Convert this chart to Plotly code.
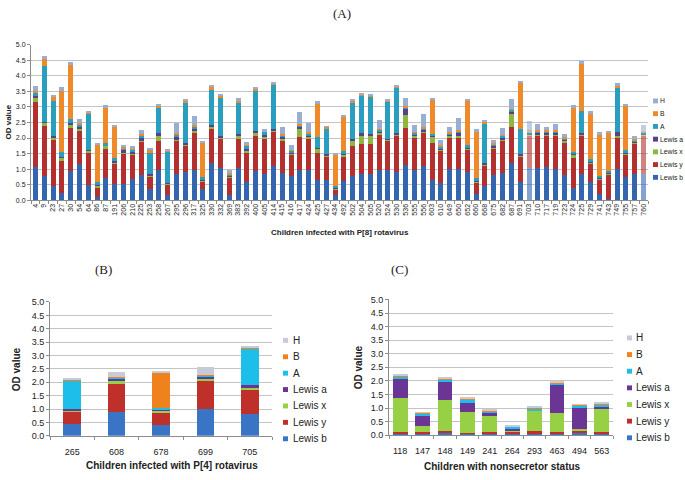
import plotly.graph_objects as go

# ---- Panel A: children infected with P[8] rotavirus ----
ids_a = ["4", "9", "23", "27", "30", "54", "64", "86", "87", "191", "206", "210", "225", "253",
         "258", "267", "295", "296", "317", "325", "330", "332", "369", "383", "392", "400",
         "405", "414", "415", "416", "417", "424", "425", "427", "434", "492", "502", "504",
         "505", "520", "524", "530", "536", "555", "556", "603", "610", "649", "650", "652",
         "660", "668", "675", "682", "687", "691", "703", "710", "717", "719", "723", "724",
         "725", "729", "741", "743", "749", "755", "757", "760"]
lewis_b_a = [1.08, .78, .47, .23, .95, 1.17, .48, .10, .70, .53, .53, .67, .80, .35,
             .97, .17, .85, .92, .98, .35, 1.20, 1.05, .15, 1.03, .60, .95,
             .84, 1.11, .86, .79, .97, .97, .64, .64, .15, .63, .77, .83,
             .83, .97, .97, .92, 1.13, .97, 1.09, .66, .56, 1.00, 1.00, .90,
             .21, .45, .81, .86, 1.20, .58, 1.03, 1.03, 1.06, 1.00, .82, .40,
             .84, .57, .21, .03, 1.00, .74, .84, .84]
lewis_y_a = [2.07, 1.62, 1.50, 1.04, 1.38, 1.08, 1.07, .32, .95, .62, .97, .80, 1.07, .40,
             .93, .33, 1.05, .83, 1.17, .25, 1.10, .93, .57, .97, .95, 1.13,
             1.16, 1.09, 1.07, .68, 1.05, 1.03, .88, .76, .20, .79, .97, .99,
             .99, 1.15, .95, 1.16, 1.20, 1.05, 1.08, 1.18, 1.04, 1.02, 1.02, .74,
             .36, .68, .87, 1.06, 1.14, .84, 1.05, 1.05, 1.02, 1.08, 1.05, .97,
             1.24, .62, .45, .79, 1.03, .74, .98, 1.24]
lewis_x_a = [.15, .10, .05, .10, .10, .05, .05, .05, .10, .08, .05, .05, .07, .05,
             .15, .03, .07, .05, .07, .03, .05, .05, .04, .05, .05, .08,
             .05, .04, .05, .05, .27, .05, .14, .05, .03, .05, .15, .26,
             .26, .05, .03, .03, .42, .05, .05, .21, .04, .05, .05, .03,
             .03, .03, .03, .05, .42, .03, .05, .05, .05, .05, .05, .10,
             .03, .04, .04, .04, .05, .04, .04, .04]
lewis_a_a = [.05, .03, .05, .03, .04, .05, .02, .03, .03, .03, .05, .03, .05, .03,
             .10, .03, .05, .05, .08, .05, .07, .05, .03, .08, .05, .08,
             .05, .04, .05, .03, .08, .05, .03, .03, .03, .03, .07, .07,
             .06, .05, .03, .04, .20, .05, .05, .04, .04, .04, .10, .04,
             .03, .03, .05, .05, .10, .03, .03, .05, .04, .04, .03, .03,
             .04, .03, .03, .03, .10, .03, .03, .03]
a_a = [.10, 1.80, 1.13, .15, .13, .10, 1.16, .08, .05, .10, .08, .07, .10, .69,
       .83, 1.00, .10, 1.30, .07, .05, 1.13, 1.22, .05, 1.00, .10, 1.30,
       .10, 1.45, .07, .05, .05, .05, .34, .83, .05, .07, 1.19, 1.21,
       1.20, .05, 1.19, 1.48, .05, .05, .05, .05, .05, .05, .06, .05,
       .07, 1.27, .05, .05, .05, .80, .05, .05, .05, .05, .05, .05,
       .72, .05, .05, .05, 1.45, .05, .05, .05]
b_a = [.08, .20, .12, 1.97, 1.75, .03, .03, 1.22, 1.17, 1.00, .03, .02, .03, .12,
       .05, .03, .05, .05, .05, 1.12, .08, .08, .03, .07, .03, .05,
       .03, .03, .03, .03, .03, .03, 1.10, .05, 1.00, 1.12, .05, .04,
       .04, .03, .03, .03, .03, .03, .03, 1.10, .03, .03, .03, 1.45,
       1.53, .07, .03, .03, .03, 1.52, .03, .03, .03, .03, .03, 1.45,
       1.54, 1.50, 1.35, 1.24, .05, 1.45, .03, .03]
h_a = [.15, .10, .08, .11, .10, .14, .07, .05, .05, .05, .08, .09, .15, .04,
       .07, .06, .30, .05, .28, .05, .07, .05, .10, .08, .10, .06,
       .06, .05, .23, .13, .40, .30, .06, .03, .05, .06, .06, .05,
       .05, .27, .05, .04, .25, .22, .43, .05, .19, .17, .40, .05,
       .05, .05, .11, .23, .33, .04, .31, .20, .12, .19, .11, .05,
       .06, .05, .05, .05, .08, .05, .10, .20]
faded_a = ["703", "760"]

# ---- Panel B: children infected with P[4] rotavirus ----
ids_b = ["265", "608", "678", "699", "705"]
lewis_b_b = [.43, .90, .42, 1.00, .82]
lewis_y_b = [.47, 1.02, .46, 1.05, .90]
lewis_x_b = [.05, .15, .05, .10, .08]
lewis_a_b = [.05, .07, .05, .07, .10]
a_b = [1.05, .03, .05, .03, 1.35]
b_b = [.05, .03, 1.32, .03, .05]
h_b = [.07, .17, .04, .29, .07]

# ---- Panel C: children with nonsecretor status ----
ids_c = ["118", "147", "148", "149", "241", "264", "293", "463", "494", "563"]
lewis_b_c = [.05, .05, .07, .04, .05, .05, .05, .05, .07, .05]
lewis_y_c = [.07, .06, .08, .05, .06, .08, .10, .08, .08, .05]
lewis_x_c = [1.25, .22, 1.13, .76, .61, .03, .73, .69, .07, .87]
lewis_a_c = [.71, .37, .67, .33, .08, .05, .03, 1.03, .78, .05]
a_c = [.05, .07, .07, .10, .05, .08, .07, .05, .07, .10]
b_c = [.05, .03, .05, .07, .05, .02, .03, .02, .03, .03]
h_c = [.04, .02, .03, .03, .02, .03, .02, .03, .02, .02]

series_names = ["Lewis b", "Lewis y", "Lewis x", "Lewis a", "A", "B", "H"]
colors_a = ["#3466B0", "#B3302E", "#8DB83F", "#5B3F8E", "#2A9EBE", "#EE8A2A", "#98AED3"]
colors_bc = ["#3A74C4", "#C0302B", "#98D045", "#6A3594", "#1EBEEB", "#F0821E", "#C5CBD8"]

W, H = 685, 480


def px_x(v):
    return v / W


def px_y(v):
    return 1 - v / H


fig = go.Figure()

data_a = [lewis_b_a, lewis_y_a, lewis_x_a, lewis_a_a, a_a, b_a, h_a]
opac_a = [0.6 if i in faded_a else 1.0 for i in ids_a]
for name, vals, col in zip(series_names, data_a, colors_a):
    fig.add_trace(go.Bar(x=ids_a, y=vals, name=name, xaxis="x", yaxis="y",
                         marker=dict(color=col, opacity=opac_a, line=dict(width=0)),
                         showlegend=False))

data_b = [lewis_b_b, lewis_y_b, lewis_x_b, lewis_a_b, a_b, b_b, h_b]
for name, vals, col in zip(series_names, data_b, colors_bc):
    fig.add_trace(go.Bar(x=ids_b, y=vals, name=name, xaxis="x2", yaxis="y2", width=0.4,
                         marker=dict(color=col, line=dict(width=0)), showlegend=False))

data_c = [lewis_b_c, lewis_y_c, lewis_x_c, lewis_a_c, a_c, b_c, h_c]
for name, vals, col in zip(series_names, data_c, colors_bc):
    fig.add_trace(go.Bar(x=ids_c, y=vals, name=name, xaxis="x3", yaxis="y3", width=0.66,
                         marker=dict(color=col, line=dict(width=0)), showlegend=False))

font_main = "Liberation Sans"
grid = "#C4C4C4"

yax_common = dict(range=[0, 5], dtick=0.5, tickformat=".1f", showgrid=True, gridcolor=grid,
                  gridwidth=1, showline=True, linecolor="#8C8C8C", ticks="outside",
                  ticklen=3, tickcolor="#8C8C8C", zeroline=False, fixedrange=True)
xax_common = dict(type="category", showline=True, linecolor="#8C8C8C", ticks="outside",
                  tickson="boundaries", ticklen=3, tickcolor="#8C8C8C", showgrid=False)

fig.update_layout(
    width=W, height=H,
    margin=dict(l=0, r=0, t=0, b=0),
    paper_bgcolor="white", plot_bgcolor="white",
    barmode="stack",
    showlegend=False,
    font=dict(family=font_main, color="#222222"),
    xaxis=dict(domain=[px_x(31), px_x(648)], anchor="y", tickangle=-90,
               tickfont=dict(size=7), **xax_common),
    yaxis=dict(domain=[px_y(199.3), px_y(40.7)], anchor="x", tickfont=dict(size=7),
               **yax_common),
    xaxis2=dict(domain=[px_x(50), px_x(272)], anchor="y2", tickangle=0,
                tickfont=dict(size=9), ticklabelstandoff=7, **xax_common),
    yaxis2=dict(domain=[px_y(440), px_y(303.3)], anchor="x2", tickfont=dict(size=9),
                **yax_common),
    xaxis3=dict(domain=[px_x(389), px_x(613)], anchor="y3", tickangle=0,
                tickfont=dict(size=9), ticklabelstandoff=7, **xax_common),
    yaxis3=dict(domain=[px_y(439.3), px_y(300.7)], anchor="x3", tickfont=dict(size=9),
                **yax_common),
    bargap=0.43,
)

annots = [
    dict(text="(A)", x=px_x(342), y=px_y(9), font=dict(family="Liberation Serif", size=13)),
    dict(text="(B)", x=px_x(103), y=px_y(270), font=dict(family="Liberation Serif", size=13)),
    dict(text="(C)", x=px_x(400), y=px_y(270), font=dict(family="Liberation Serif", size=13)),
    dict(text="<b>Children infected with P[8] rotavirus</b>", x=px_x(340), y=px_y(232),
         font=dict(size=8)),
    dict(text="<b>Children infected with P[4] rotavirus</b>", x=px_x(172), y=px_y(470),
         font=dict(size=10)),
    dict(text="<b>Children with nonsecretor status</b>", x=px_x(502), y=px_y(471),
         font=dict(size=10)),
    dict(text="<b>OD value</b>", x=px_x(8), y=px_y(120), textangle=-90, font=dict(size=8)),
    dict(text="<b>OD value</b>", x=px_x(16), y=px_y(372), textangle=-90, font=dict(size=10)),
    dict(text="<b>OD value</b>", x=px_x(358), y=px_y(370), textangle=-90, font=dict(size=10)),
]
for a in annots:
    fig.add_annotation(xref="paper", yref="paper", showarrow=False,
                       xanchor="center", yanchor="middle", **a)

# legends drawn as small swatches + text (top to bottom: H ... Lewis b)
legend_specs = [
    # (swatch left x, text x, first centre y, step, swatch size, font size, colours)
    (653, 659, 98, 13.0, 5, 6.8, colors_a),
    (283, 292, 342.5, 16.75, 5, 10, colors_bc),
    (627, 635, 340, 17.0, 5, 10, colors_bc),
]
for sx, tx, y0, step, sz, fs, cols in legend_specs:
    for k, (name, col) in enumerate(zip(series_names[::-1], cols[::-1])):
        yc = y0 + k * step
        fig.add_shape(type="rect", xref="paper", yref="paper",
                      x0=px_x(sx), x1=px_x(sx + sz), y0=px_y(yc + sz / 2), y1=px_y(yc - sz / 2),
                      fillcolor=col, line=dict(width=0))
        fig.add_annotation(xref="paper", yref="paper", showarrow=False, text=name,
                           x=px_x(tx), y=px_y(yc), xanchor="left", yanchor="middle",
                           borderpad=0, font=dict(size=fs, color="#222222"))

# page has a default body margin; remove it so the figure fills the window
fig.write_html("out.html", config={"displayModeBar": False},
               post_script="document.body.style.margin='0';document.body.style.overflow='hidden';")
